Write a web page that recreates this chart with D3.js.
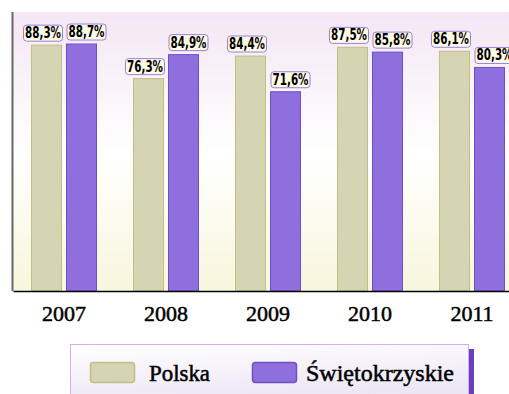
<!DOCTYPE html>
<html>
<head>
<meta charset="utf-8">
<script src="https://cdn.jsdelivr.net/npm/d3@7"></script>
<style>
  html, body { margin: 0; padding: 0; background: #fff; }
  svg { display: block; }
</style>
</head>
<body>
<div id="chart"></div>
<script>
// Years shown on the category axis
const years = ["2007", "2008", "2009", "2010", "2011"];
// Series names
const seriesNames = ["Polska", "Świętokrzyskie"];
// Values in percent
const polska = [88.3, 76.3, 84.4, 87.5, 86.1];
const swietokrzyskie = [88.7, 84.9, 71.6, 85.8, 80.3];

const W = 509, H = 394;
const plot = { left: 13, top: 12, right: 523, bottom: 291 };

const fills = ["#d5d4b3", "#8f6fdd"];
const strokes = ["#c4bd84", "#6b50c4"];
const serif = "'Liberation Serif', 'Times New Roman', serif";

const svg = d3.select("#chart").append("svg")
  .attr("width", W).attr("height", H);

const defs = svg.append("defs");
const bg = defs.append("linearGradient").attr("id", "plotBg")
  .attr("x1", 0).attr("y1", 0).attr("x2", 0).attr("y2", 1);
bg.append("stop").attr("offset", "0%").attr("stop-color", "#f3e7f3");
bg.append("stop").attr("offset", "50%").attr("stop-color", "#ffffff");
bg.append("stop").attr("offset", "100%").attr("stop-color", "#f8f6dc");

const lg = defs.append("linearGradient").attr("id", "legendBg")
  .attr("x1", 0).attr("y1", 0).attr("x2", 0.3).attr("y2", 1);
lg.append("stop").attr("offset", "0%").attr("stop-color", "#ffffff");
lg.append("stop").attr("offset", "100%").attr("stop-color", "#ebe5f4");

const x0 = d3.scaleBand().domain(years).range([plot.left, plot.right]).paddingInner(0).paddingOuter(0);
const y = d3.scaleLinear().domain([0, 100]).range([plot.bottom, plot.top]);

// plot background
svg.append("rect")
  .attr("x", plot.left).attr("y", plot.top)
  .attr("width", plot.right - plot.left).attr("height", plot.bottom - plot.top)
  .attr("fill", "url(#plotBg)");

const data = years.map((yr, i) => ({ year: yr, values: [polska[i], swietokrzyskie[i]] }));

const barW = 31, gap = 4;
const barX = (yr, s) => x0(yr) + x0.bandwidth() / 2 + (s === 0 ? -gap / 2 - barW : gap / 2);

// bars
const groups = svg.append("g").selectAll("g").data(data).join("g");
groups.selectAll("rect").data(d => d.values.map((v, s) => ({ year: d.year, v, s })))
  .join("rect")
  .attr("x", d => barX(d.year, d.s) + 0.5)
  .attr("y", d => y(d.v) + 0.5)
  .attr("width", barW - 1)
  .attr("height", d => y(0) - y(d.v) - 0.5)
  .attr("fill", d => fills[d.s])
  .attr("stroke", d => strokes[d.s])
  .attr("stroke-width", 1);

// axes
const xAxis = d3.axisBottom(x0).tickSize(0).tickPadding(0);
const gx = svg.append("g").attr("transform", `translate(0,${plot.bottom})`).call(xAxis);
gx.select(".domain").attr("stroke", "#000").attr("stroke-width", 1.5);
gx.selectAll("text")
  .attr("dy", null).attr("y", 30)
  .attr("font-family", serif)
  .attr("font-size", 22).attr("fill", "#000")
  .attr("stroke", "#000").attr("stroke-width", 0.5);

svg.append("line")
  .attr("x1", plot.left - 0.5).attr("x2", plot.left - 0.5)
  .attr("y1", plot.top).attr("y2", plot.bottom)
  .attr("stroke", "#666").attr("stroke-width", 2);

// value labels
const lblW = 40, lblH = 17;
const labels = svg.append("g").selectAll("g")
  .data(data.flatMap(d => d.values.map((v, s) => ({ year: d.year, v, s }))))
  .join("g")
  .attr("transform", d => {
    const cx = barX(d.year, d.s) + barW / 2 + (d.s === 0 ? -3.5 : 5);
    return `translate(${cx},${y(d.v) - 3 - lblH})`;
  });
labels.append("rect")
  .attr("x", -lblW / 2 + 0.5).attr("y", 0.5)
  .attr("width", lblW - 1).attr("height", lblH - 1)
  .attr("rx", 3).attr("ry", 3)
  .attr("fill", "#fdfbe4").attr("stroke", "#9b7fe0").attr("stroke-width", 1);
labels.append("text")
  .attr("x", 0).attr("y", 13.5)
  .attr("text-anchor", "middle")
  .attr("font-family", "'DejaVu Sans Condensed', 'DejaVu Sans', sans-serif")
  .attr("font-weight", "bold")
  .attr("font-size", 15)
  .attr("textLength", 36).attr("lengthAdjust", "spacingAndGlyphs")
  .attr("fill", "#000")
  .text(d => d.v.toFixed(1).replace(".", ",") + "%");

// legend
const legend = svg.append("g");
legend.append("rect")
  .attr("x", 474 - 5).attr("y", 349).attr("width", 5).attr("height", 60)
  .attr("fill", "#6a3fbf");
legend.append("rect")
  .attr("x", 70.5).attr("y", 344.5).attr("width", 398).attr("height", 60)
  .attr("fill", "url(#legendBg)").attr("stroke", "#d2b0f0").attr("stroke-width", 1);

const legendItems = [
  { name: seriesNames[0], sx: 90, tx: 149 },
  { name: seriesNames[1], sx: 252, tx: 306 }
];
legendItems.forEach((it, s) => {
  legend.append("rect")
    .attr("x", it.sx + 0.5).attr("y", 362.5).attr("width", 44).attr("height", 20)
    .attr("rx", 3).attr("ry", 3)
    .attr("fill", fills[s]).attr("stroke", strokes[s]).attr("stroke-width", 1.5);
  legend.append("text")
    .attr("x", it.tx).attr("y", 381)
    .attr("font-family", serif)
    .attr("font-size", 23).attr("fill", "#000")
    .attr("stroke", "#000").attr("stroke-width", 0.5)
    .attr("textLength", s === 0 ? 61 : 148).attr("lengthAdjust", "spacingAndGlyphs")
    .text(it.name);
});
</script>
</body>
</html>
